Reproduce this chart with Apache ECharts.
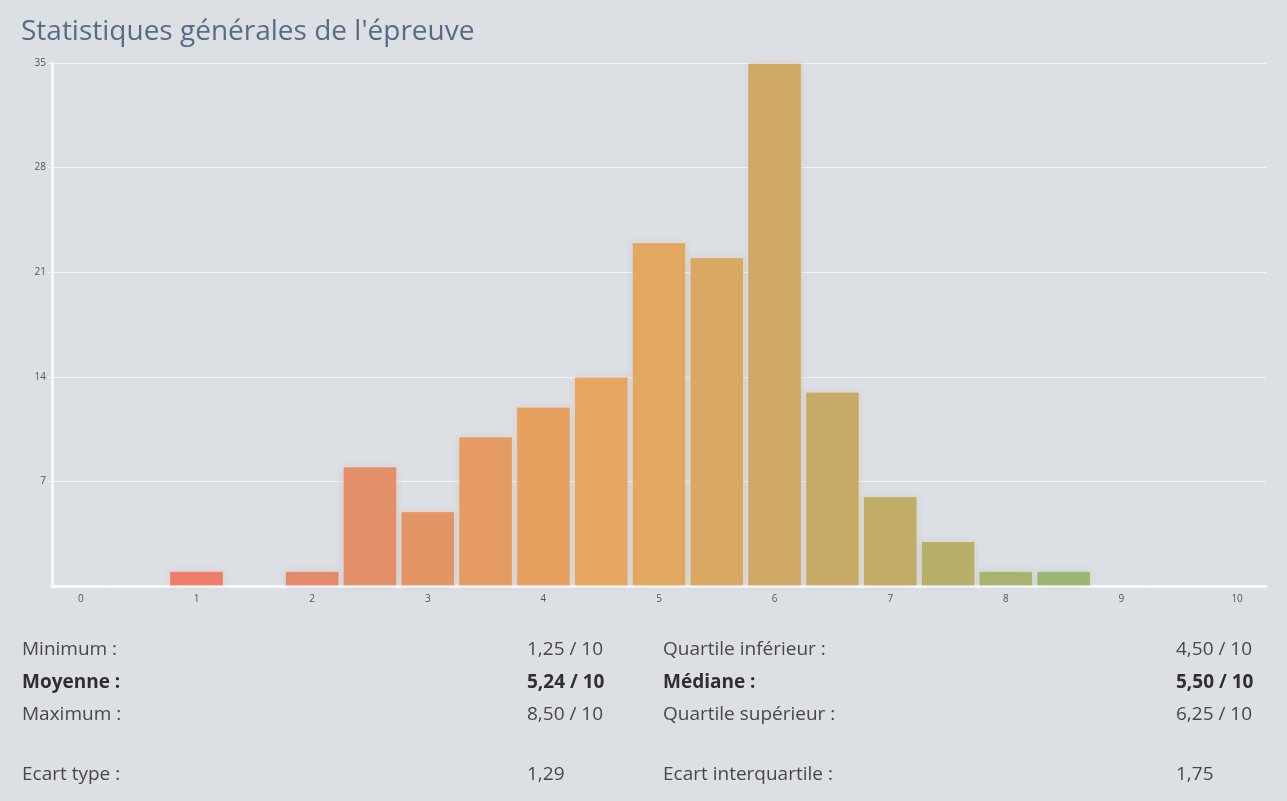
<!DOCTYPE html>
<html>
<head>
<meta charset="utf-8">
<title>Statistiques générales de l'épreuve</title>
<script src="https://cdn.jsdelivr.net/npm/echarts@6/dist/echarts.min.js"></script>
<style>
  html, body { margin: 0; padding: 0; background: #dcdfe4; }
  #chart { width: 1287px; height: 801px; }
</style>
</head>
<body>
<div id="chart"></div>
<script>
// notes, by half point
const grades = ['0', '0,5', '1', '1,5', '2', '2,5', '3', '3,5', '4', '4,5', '5',
  '5,5', '6', '6,5', '7', '7,5', '8', '8,5', '9', '9,5', '10'];
const counts = [0, 0, 1, 0, 1, 8, 5, 10, 12, 14, 23, 22, 35, 13, 6, 3, 1, 1, 0, 0, 0];
const yTicks = [0, 7, 14, 21, 28, 35];

// stats table below the chart
const statsLeft = [
  ['Minimum :', '1,25 / 10', false],
  ['Moyenne :', '5,24 / 10', true],
  ['Maximum :', '8,50 / 10', false],
  ['Ecart type :', '1,29', false],
];
const statsRight = [
  ['Quartile inférieur :', '4,50 / 10', false],
  ['Médiane :', '5,50 / 10', true],
  ['Quartile supérieur :', '6,25 / 10', false],
  ['Ecart interquartile :', '1,75', false],
];

const FONT = '"Open Sans", "Noto Sans", sans-serif';
const rowY = [650, 683, 715, 775];

function statTexts(rows, labelX, valueX) {
  const out = [];
  rows.forEach(([label, value, bold], i) => {
    const style = {
      fill: bold ? '#2f2f2f' : '#484848',
      fontSize: 19,
      fontFamily: FONT,
      fontWeight: bold ? 'bold' : 'normal',
      verticalAlign: 'middle',
    };
    out.push({ type: 'text', x: labelX, y: rowY[i], style: { ...style, text: label } });
    out.push({ type: 'text', x: valueX, y: rowY[i], style: { ...style, text: value } });
  });
  return out;
}

const chart = echarts.init(document.getElementById('chart'));
chart.setOption({
  backgroundColor: '#dcdfe4',
  animation: false,
  title: {
    text: "Statistiques générales de l'épreuve",
    left: 21,
    top: 18,
    padding: 0,
    textStyle: {
      color: '#5a6b85',
      fontSize: 28,
      fontWeight: 'normal',
      fontFamily: FONT,
    },
  },
  grid: {
    left: 52,
    right: 21,
    top: 63,
    bottom: 215,
  },
  visualMap: {
    show: false,
    type: 'continuous',
    dimension: 0,
    min: 2,
    max: 17,
    inRange: {
      color: ['#ec7e6b', '#e28c69', '#e59b62', '#e7a85e', '#cfa866', '#bcac67', '#9cb673'],
    },
  },
  xAxis: {
    type: 'category',
    data: grades,
    axisLine: { lineStyle: { color: '#f7f8f9', width: 3 } },
    axisTick: { show: false },
    axisLabel: {
      interval: 1,
      color: '#555',
      fontSize: 10,
      fontFamily: FONT,
      margin: 8,
    },
  },
  yAxis: {
    type: 'value',
    min: yTicks[0],
    max: yTicks[yTicks.length - 1],
    interval: yTicks[1] - yTicks[0],
    axisLine: { show: true, lineStyle: { color: '#f7f8f9', width: 3 } },
    axisTick: { show: true, length: 4, lineStyle: { color: '#f7f8f9' } },
    axisLabel: {
      showMinLabel: false,
      color: '#555',
      fontSize: 10,
      fontFamily: FONT,
      margin: 6,
    },
    splitLine: { lineStyle: { color: '#f2f3f5', width: 1 } },
  },
  series: [{
    type: 'bar',
    data: counts,
    barCategoryGap: '6%',
    itemStyle: {
      borderColor: 'rgba(255,255,255,0.35)',
      borderWidth: 1,
      shadowBlur: 8,
      shadowColor: 'rgba(0,0,0,0.08)',
    },
  }],
  graphic: [
    ...statTexts(statsLeft, 22, 527),
    ...statTexts(statsRight, 663, 1176),
  ],
});
</script>
</body>
</html>
